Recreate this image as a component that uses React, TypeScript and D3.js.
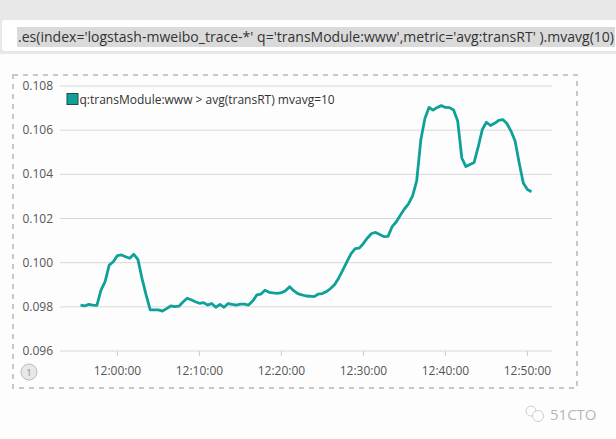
import React from "react";
import * as d3 from "d3";

// minutes offset from 12:00:00 (every 30s), values of avg(transRT) mvavg=10
const minutesFromNoon: number[] = [
  -4.5, -4, -3.5, -3, -2.5, -2, -1.5, -1, -0.5, 0, 0.5, 1, 1.5, 2, 2.5, 3, 3.5, 4, 4.5, 5,
  5.5, 6, 6.5, 7, 7.5, 8, 8.5, 9, 9.5, 10, 10.5, 11, 11.5, 12, 12.5, 13, 13.5, 14, 14.5, 15,
  15.5, 16, 16.5, 17, 17.5, 18, 18.5, 19, 19.5, 20, 20.5, 21, 21.5, 22, 22.5, 23, 23.5, 24, 24.5, 25,
  25.5, 26, 26.5, 27, 27.5, 28, 28.5, 29, 29.5, 30, 30.5, 31, 31.5, 32, 32.5, 33, 33.5, 34, 34.5, 35,
  35.5, 36, 36.5, 37, 37.5, 38, 38.5, 39, 39.5, 40, 40.5, 41, 41.5, 42, 42.5, 43, 43.5, 44, 44.5, 45,
  45.5, 46, 46.5, 47, 47.5, 48, 48.5, 49, 49.5, 50, 50.5,
];
const values: number[] = [
  0.09808, 0.09804, 0.09811, 0.09808, 0.09807, 0.09876, 0.09914, 0.09989, 0.10004, 0.10032,
  0.10035, 0.10027, 0.1002, 0.10038, 0.10015, 0.09929, 0.09854, 0.09786, 0.09786, 0.09786,
  0.09781, 0.09792, 0.09804, 0.09801, 0.09803, 0.09822, 0.09839, 0.09832, 0.09823, 0.09816,
  0.09819, 0.09808, 0.09815, 0.09798, 0.09811, 0.09798, 0.09815, 0.09811, 0.09808, 0.09812,
  0.09812, 0.09808, 0.09826, 0.09854, 0.09858, 0.09875, 0.09866, 0.09863, 0.09861, 0.09864,
  0.09873, 0.09891, 0.09873, 0.0986, 0.09854, 0.09849, 0.09848, 0.09846, 0.09858, 0.0986,
  0.09869, 0.09883, 0.09901, 0.09931, 0.09967, 0.10005, 0.10041, 0.10064, 0.10066, 0.10087,
  0.10112, 0.10132, 0.10137, 0.10128, 0.10118, 0.10119, 0.10163, 0.10184, 0.10215, 0.10243,
  0.10266, 0.10302, 0.1037, 0.10555, 0.10653, 0.10703, 0.10691, 0.10703, 0.10711, 0.10703,
  0.10702, 0.10691, 0.10641, 0.10474, 0.10435, 0.10445, 0.10454, 0.10524, 0.10603, 0.10636,
  0.10621, 0.10631, 0.10644, 0.10648, 0.1063, 0.10596, 0.10551, 0.10451, 0.10361, 0.10331,
  0.10321,
];
const yTicks: number[] = [0.096, 0.098, 0.1, 0.102, 0.104, 0.106, 0.108];
const xTickLabels: string[] = ["12:00:00", "12:10:00", "12:20:00", "12:30:00", "12:40:00", "12:50:00"];
const queryText =
  ".es(index='logstash-mweibo_trace-*' q='transModule:www',metric='avg:transRT' ).mvavg(10)";
const legendLabel = "q:transModule:www > avg(transRT) mvavg=10";

const base = new Date(2017, 0, 1, 12, 0, 0).getTime();
const toDate = (m: number) => new Date(base + m * 60000);

export default function App() {
  const W = 616;
  const H = 439;
  const left = 60, right = 552, top = 86, bottom = 351;
  const x = d3.scaleTime().domain([toDate(-7), toDate(53)]).range([left, right]);
  const y = d3.scaleLinear().domain([0.096, 0.108]).range([bottom, top]);
  const pts = minutesFromNoon.map((m, i) => [toDate(m), values[i]] as [Date, number]);
  const line = d3
    .line<[Date, number]>()
    .x((d) => x(d[0]))
    .y((d) => y(d[1]));
  const xTicks = xTickLabels.map((s, i) => ({ s, d: toDate(i * 10) }));
  const font = "'Open Sans', 'Noto Sans', sans-serif";
  const teal = "#0fa199";

  return (
    <svg
      width={W}
      height={H}
      style={{ position: "absolute", left: 0, top: 0, display: "block" }}
      fontFamily={font}
    >
      <rect x={0} y={0} width={W} height={H} fill="#fdfdfd" />
      <rect x={0} y={0} width={W} height={54} fill="#e8e8e8" />
      <rect x={2} y={20} width={W} height={31} rx={3} fill="#ffffff" />
      <rect x={17} y={27} width={598} height={20} fill="#dadada" />
      <text x={18} y={42} fontSize={14} fill="#333" textLength={596}>
        {queryText}
      </text>

      <rect
        x={13}
        y={75}
        width={564}
        height={313}
        fill="none"
        stroke="#c8c8c8"
        strokeWidth={2}
        strokeDasharray="5,5"
      />

      {yTicks.map((t) => (
        <g key={t}>
          <line x1={left} x2={right} y1={y(t)} y2={y(t)} stroke="#d8d8d8" strokeWidth={1} />
          <text x={53} y={y(t) + 4} fontSize={12} fill="#555" textAnchor="end">
            {t.toFixed(3)}
          </text>
        </g>
      ))}
      {xTicks.map((t) => (
        <g key={t.s}>
          <line x1={x(t.d)} x2={x(t.d)} y1={bottom} y2={bottom + 5} stroke="#ccc" />
          <text x={x(t.d)} y={375} fontSize={12} fill="#555" textAnchor="middle">
            {t.s}
          </text>
        </g>
      ))}

      <path d={line(pts) || ""} fill="none" stroke={teal} strokeWidth={2.8} strokeLinejoin="round" />

      <rect x={67} y={93.5} width={11} height={11} fill={teal} stroke="#2a4a48" strokeWidth={1} />
      <text x={79.5} y={103.5} fontSize={12} fill="#333">
        {legendLabel}
      </text>

      <circle cx={29} cy={372} r={8} fill="#e8e8e8" stroke="#bdbdbd" strokeWidth={1} />
      <text x={29} y={375.5} fontSize={9.5} fill="#888" textAnchor="middle">
        1
      </text>

      <g opacity={0.7}>
        <circle cx={531} cy={411} r={5} fill="none" stroke="#bbb" strokeWidth={1} />
        <circle cx={538} cy={416} r={5.5} fill="#fff" stroke="#bbb" strokeWidth={1} />
        <text x={550} y={420} fontSize={15} fill="#999">
          51CTO
        </text>
      </g>
    </svg>
  );
}
